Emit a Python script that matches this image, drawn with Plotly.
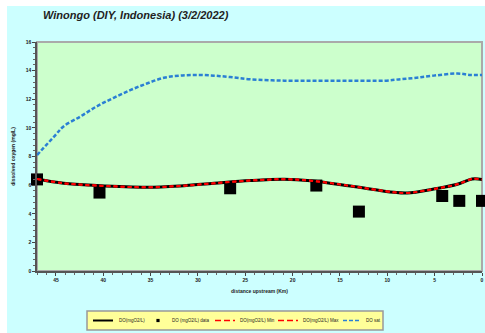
import plotly.graph_objects as go

# Distance upstream (km) and simulated dissolved oxygen along the Winongo river
dist_model = [47.0, 44.2, 40.7, 35.4, 31.9, 28.3, 24.5, 20.9, 18.1, 13.9, 9.3, 7.9, 5.1, 2.6, 1.05, 0.0]
do_model = [6.43, 6.13, 5.97, 5.85, 5.94, 6.13, 6.32, 6.41, 6.31, 5.94, 5.50, 5.45, 5.73, 6.06, 6.43, 6.40]
do_min = [6.43, 6.13, 5.97, 5.85, 5.94, 6.13, 6.32, 6.41, 6.31, 5.94, 5.50, 5.45, 5.73, 6.06, 6.43, 6.40]
do_max = [6.43, 6.13, 5.97, 5.85, 5.94, 6.13, 6.32, 6.41, 6.31, 5.94, 5.50, 5.45, 5.73, 6.06, 6.43, 6.40]

# Saturation dissolved oxygen
dist_sat = [47.0, 45.05, 44.2, 42.4, 40.7, 38.9, 37.1, 35.4, 33.6, 31.9, 30.1, 28.3, 26.6, 24.5, 20.9,
            17.4, 13.9, 10.3, 8.6, 6.9, 5.1, 2.6, 1.2, 0.0]
do_sat = [8.1, 9.5, 10.1, 10.8, 11.5, 12.1, 12.65, 13.1, 13.5, 13.65, 13.7, 13.65, 13.55, 13.4, 13.3,
          13.3, 13.3, 13.3, 13.4, 13.5, 13.65, 13.8, 13.7, 13.7]

# Measured dissolved oxygen
dist_obs = [47.0, 40.4, 26.6, 17.5, 13.0, 4.2, 2.4, 0.0]
do_obs = [6.4, 5.48, 5.78, 5.97, 4.15, 5.24, 4.9, 4.9]

x_ticks = [45, 40, 35, 30, 25, 20, 15, 10, 5, 0]
y_ticks = [0, 2, 4, 6, 8, 10, 12, 14, 16]

series_names = ["DO(mgO2/L)", "DO (mgO2/L) data", "DO(mgO2/L) Min", "DO(mgO2/L) Max", "DO sat"]

FONT = "Liberation Sans, Arial, sans-serif"
W, H = 485, 333
ML, MR, MT, MB = 37, 3, 42, 62
PW, PH = W - ML - MR, H - MT - MB

RED_DASH = "4px,3px"
BLUE_DASH = "4px,2px"


def px_x(v):
    """Page pixel column -> paper x."""
    return (v - ML) / PW


def px_y(v):
    """Page pixel row -> paper y."""
    return (H - MB - v) / PH


fig = go.Figure()
fig.add_trace(go.Scatter(x=dist_model, y=do_model, mode="lines", name=series_names[0],
                         line=dict(color="black", width=3, shape="spline")))
fig.add_trace(go.Scatter(x=dist_obs, y=do_obs, mode="markers", name=series_names[1], cliponaxis=False,
                         marker=dict(symbol="square", size=12, color="black")))
fig.add_trace(go.Scatter(x=dist_model, y=do_min, mode="lines", name=series_names[2],
                         line=dict(color="#FF0000", width=2, dash=RED_DASH, shape="spline")))
fig.add_trace(go.Scatter(x=dist_model, y=do_max, mode="lines", name=series_names[3],
                         line=dict(color="#FF0000", width=2, dash=RED_DASH, shape="spline")))
fig.add_trace(go.Scatter(x=dist_sat, y=do_sat, mode="lines", name=series_names[4],
                         line=dict(color="#2A7FD4", width=2.5, dash=BLUE_DASH, shape="spline")))

shapes = [
    # white strips along the top and left edges of the page
    dict(type="rect", xref="paper", yref="paper", x0=-0.2, x1=1.2, y0=px_y(6), y1=1.3,
         fillcolor="white", line=dict(width=0), layer="below"),
    dict(type="rect", xref="paper", yref="paper", x0=-0.2, x1=px_x(7), y0=-0.4, y1=1.3,
         fillcolor="white", line=dict(width=0), layer="below"),
    # plot frame
    dict(type="rect", xref="paper", yref="paper", x0=0, x1=1, y0=0, y1=1,
         fillcolor="rgba(0,0,0,0)", line=dict(color="#AAAAAA", width=2), layer="below"),
    # legend box
    dict(type="rect", xref="paper", yref="paper", x0=px_x(87), x1=px_x(383), y0=px_y(330), y1=px_y(311),
         fillcolor="#FFFF99", line=dict(color="#999999", width=1.5)),
]

# legend keys: (symbol start, symbol end, label start)
LEG_Y = 320.5
legend_keys = [(93, 113, 117), (154, 162, 170), (215, 235, 238), (278, 298, 301), (343, 359, 364)]
key_styles = [
    dict(color="black", width=2),
    None,
    dict(color="#FF0000", width=1.5, dash="6px,3px"),
    dict(color="#FF0000", width=1.5, dash="6px,3px"),
    dict(color="#2A7FD4", width=1.5, dash="4px,2px"),
]
annotations = []
for (x0, x1, xt), style, name in zip(legend_keys, key_styles, series_names):
    if style is None:
        cx = (x0 + x1) / 2
        shapes.append(dict(type="rect", xref="paper", yref="paper",
                           x0=px_x(cx - 1.6), x1=px_x(cx + 1.6), y0=px_y(LEG_Y + 1.6), y1=px_y(LEG_Y - 1.6),
                           fillcolor="black", line=dict(width=0)))
    else:
        shapes.append(dict(type="line", xref="paper", yref="paper",
                           x0=px_x(x0), x1=px_x(x1), y0=px_y(LEG_Y), y1=px_y(LEG_Y), line=style))
    annotations.append(dict(text=name, xref="paper", yref="paper", x=px_x(xt), y=px_y(LEG_Y),
                            xanchor="left", yanchor="middle", showarrow=False,
                            font=dict(family=FONT, size=4.5, color="#222")))

fig.update_layout(
    width=W, height=H,
    margin=dict(l=ML, r=MR, t=MT, b=MB, autoexpand=False),
    paper_bgcolor="#CCFFFF",
    plot_bgcolor="#CCFFCC",
    font=dict(family=FONT, size=6, color="#222"),
    showlegend=False,
    title=dict(text="<b><i>Winongo (DIY, Indonesia) (3/2/2022)</i></b>",
               x=43 / W, xanchor="left", y=1 - 15 / H, yanchor="middle",
               font=dict(family=FONT, size=11, color="#222")),
    xaxis=dict(range=[47, 0], tickvals=x_ticks, ticks="outside", ticklen=3, tickwidth=1,
               tickcolor="#444", showgrid=False, zeroline=False, showline=True,
               linecolor="#555", linewidth=1.5,
               minor=dict(dtick=1, ticks="outside", ticklen=2, tickcolor="#666"),
               tickfont=dict(size=5, family=FONT, weight="bold"),
               title=dict(text="distance upstream (Km)", font=dict(size=5, weight="bold"), standoff=8)),
    yaxis=dict(range=[0, 16], tickvals=y_ticks, ticks="outside", ticklen=3, tickwidth=1,
               tickcolor="#444", showgrid=False, zeroline=False, showline=True,
               linecolor="#555", linewidth=1.5,
               minor=dict(dtick=0.4, ticks="outside", ticklen=2, tickcolor="#666"),
               tickfont=dict(size=5, family=FONT, weight="bold"),
               title=dict(text="dissolved oxygen (mg/L)", font=dict(size=5, weight="bold"), standoff=10)),
    shapes=shapes,
    annotations=annotations,
)

fig.write_html("out.html")
